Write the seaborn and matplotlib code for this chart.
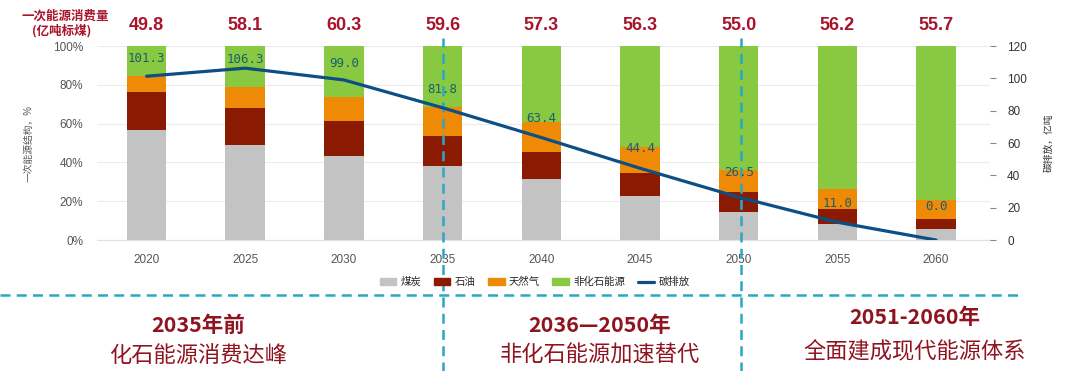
import numpy as np
import pandas as pd
import matplotlib
matplotlib.use("Agg")
import matplotlib.pyplot as plt
import seaborn as sns
from matplotlib.patches import Patch
from matplotlib.lines import Line2D

# primary energy structure (%)
years = ["2020", "2025", "2030", "2035", "2040", "2045", "2050", "2055", "2060"]
coal = [56.7, 49.0, 43.3, 38.1, 31.4, 22.7, 14.4, 8.2, 5.7]
oil = [19.6, 19.0, 18.0, 15.5, 14.0, 11.8, 10.3, 7.8, 5.1]
gas = [8.2, 10.9, 12.4, 15.0, 15.4, 13.4, 11.4, 10.3, 9.8]
nonfossil = [100 - c - o - g for c, o, g in zip(coal, oil, gas)]

# total primary energy consumption (亿吨标煤) and carbon emissions (亿吨)
total_energy = [49.8, 58.1, 60.3, 59.6, 57.3, 56.3, 55.0, 56.2, 55.7]
carbon = [101.3, 106.3, 99.0, 81.8, 63.4, 44.4, 26.5, 11.0, 0.0]

fuel_names = ["煤炭", "石油", "天然气", "非化石能源"]
fuel_colors = ["#c3c3c3", "#8b1a02", "#ef8a06", "#88c941"]
line_color = "#0d4f84"
dash_color = "#2aa6c6"
red = "#a8142a"

sns.set_style("white")
plt.rcParams["font.family"] = ["Liberation Sans", "Noto Sans CJK SC", "DejaVu Sans"]

df = pd.DataFrame({"year": years, "coal": coal, "oil": oil, "gas": gas, "nonfossil": nonfossil})
cum = df[["coal", "oil", "gas", "nonfossil"]].cumsum(axis=1) / 100

fig = plt.figure(figsize=(10.8, 3.71), dpi=100)
ax = fig.add_axes([0.09, 0.353, 0.827, 0.523])

# stacked bars: draw cumulative totals from the top layer down
for col, color in zip(["nonfossil", "gas", "oil", "coal"], fuel_colors[::-1]):
    sns.barplot(x=df["year"], y=cum[col], color=color, width=0.4, saturation=1,
                linewidth=0, ax=ax)

ax.set_ylim(0, 1)
ax.set_yticks(np.arange(0, 1.01, 0.2))
ax.set_yticklabels([f"{int(v * 100)}%" for v in np.arange(0, 1.01, 0.2)])
ax.yaxis.grid(True, color="#ececec", linewidth=0.8)
ax.set_axisbelow(True)
for s in ["top", "right", "left"]:
    ax.spines[s].set_visible(False)
ax.spines["bottom"].set_color("#e0e0e0")
ax.tick_params(axis="both", length=0, labelsize=8.5, colors="#555555", pad=10)
ax.set_xlabel("")
ax.set_ylabel("一次能源结构，%", fontsize=7, color="#555555", labelpad=14)

# carbon emission line on the right axis
ax2 = ax.twinx()
sns.lineplot(x=np.arange(len(years)), y=carbon, color=line_color, linewidth=2.3, ax=ax2)
ax2.set_ylim(0, 120)
ax2.set_yticks(range(0, 121, 20))
for s in ax2.spines.values():
    s.set_visible(False)
ax2.tick_params(axis="y", length=4, width=0.8, color="#888888", labelsize=8.5,
                labelcolor="#333333", pad=8)
ax2.set_ylabel("碳排放，亿吨", fontsize=7, color="#333333", labelpad=12)
ax.set_xlim(-0.5, 8.55)

label_offsets = [18, 9, 16, 18, 19, 20, 25, 19, 34]
for i, (v, off) in enumerate(zip(carbon, label_offsets)):
    ax2.annotate(f"{v:.1f}", (i, v), xytext=(0, off), textcoords="offset pixels",
                 ha="center", va="center", fontsize=9, color="#1b5e6e",
                 family=["DejaVu Sans Mono"])

# total energy consumption on top
for i, v in enumerate(total_energy):
    ax.text(i, 1.105, f"{v:.1f}", ha="center", va="center", fontsize=13,
            fontweight="bold", color=red, transform=ax.get_xaxis_transform())
fig.text(0.06, 1 - 16 / 371, "一次能源消费量", ha="center", va="center", fontsize=9,
         fontweight="bold", color=red, family=["Noto Sans CJK SC"])
fig.text(0.057, 1 - 31 / 371, "(亿吨标煤)", ha="center", va="center", fontsize=9,
         fontweight="bold", color=red, family=["Noto Sans CJK SC"])

# legend
handles = [Patch(color=c, label=n) for c, n in zip(fuel_colors, fuel_names)]
handles.append(Line2D([0], [0], color=line_color, lw=2.3, label="碳排放"))
fig.legend(handles=handles, loc="center", bbox_to_anchor=(0.495, 1 - 282 / 371), ncol=5,
           frameon=False, fontsize=7.5, handlelength=1.6, handleheight=0.6,
           columnspacing=1.2, handletextpad=0.4)

# phase separators
for xpos in [3, 6.02]:
    ax.axvline(xpos, ymin=-0.68, ymax=1.04, color=dash_color, lw=1.8,
               linestyle=(0, (4, 2.5)), clip_on=False, zorder=5)
fig.add_artist(Line2D([0, 0.945], [1 - 295 / 371] * 2, color=dash_color, lw=1.8,
                      linestyle=(0, (4, 2.5)), transform=fig.transFigure))

phases = [("2035年前", "化石能源消费达峰", 198, 325, 355),
          ("2036—2050年", "非化石能源加速替代", 600, 325, 355),
          ("2051-2060年", "全面建成现代能源体系", 915, 318, 352)]
for head, sub, px, y1, y2 in phases:
    fig.text(px / 1080, 1 - y1 / 371, head, ha="center", va="center", fontsize=15.5,
             fontweight="bold", color="#8e1420", family=["Noto Sans CJK SC"])
    fig.text(px / 1080, 1 - y2 / 371, sub, ha="center", va="center", fontsize=16,
             color="#8e1420", family=["Noto Sans CJK SC"])

fig.savefig("out.png", dpi=100)
